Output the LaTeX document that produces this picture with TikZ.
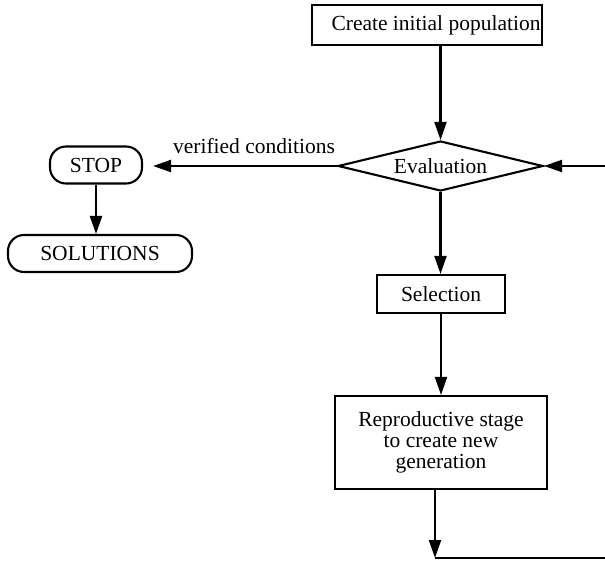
\documentclass[tikz,border=0pt]{standalone}
\usepackage{fontspec}
\setmainfont{Liberation Serif}
\usetikzlibrary{arrows.meta,shapes.geometric}
\begin{document}
\begin{tikzpicture}[x=1pt,y=-1pt,
  txt/.style={font=\fontsize{21.5}{21}\selectfont, inner sep=0pt},
  boxnode/.style={txt, draw, line width=2.1pt},
  termnode/.style={txt, draw, line width=2.1pt, rounded corners=16pt},
  decnode/.style={txt, draw, line width=2.1pt, diamond, aspect=4},
  arr/.style={line width=2.1pt, -{Triangle[length=18pt,width=12pt]}},
  ln/.style={line width=2.1pt}]
\useasboundingbox (0,0) rectangle (605,562);
\node[boxnode, minimum width=230pt, minimum height=40pt] (top) at (427,25) {\hspace*{18pt}Create initial population};
\node[decnode, minimum width=205pt, minimum height=50pt] (dia) at (440.5,166) {Evaluation};
\node[boxnode, minimum width=128pt, minimum height=38pt] (sel) at (441,294) {Selection};
\node[boxnode, minimum width=212pt, minimum height=93pt, align=center] (rep) at (441,442.5) {Reproductive stage\\to create new\\generation};
\node[termnode, minimum width=92pt, minimum height=37pt] (stop) at (96,165) {STOP};
\node[termnode, minimum width=184pt, minimum height=37pt] (sol) at (100,253.5) {SOLUTIONS};
\node[txt] (lab) at (254,146) {verified conditions};
\coordinate (corner) at (435,558);
\coordinate (rb) at (605,558);
\coordinate (rt) at (605,166);
\draw[arr] (dia.north |- top.south) -- (dia.north);
\draw[arr] (dia.south) -- (dia.south |- sel.north);
\draw[arr] (sel.south) -- (rep.north);
\draw[arr] (rep.south -| corner) -- (corner);
\draw[ln] (corner) -- (rb);
\draw[arr] (rt) -- (dia.east);
\draw[arr, shorten >=10pt] (dia.west) -- (dia.west -| stop.east);
\draw[arr] (stop.south) -- (stop.south |- sol.north);
\end{tikzpicture}
\end{document}
